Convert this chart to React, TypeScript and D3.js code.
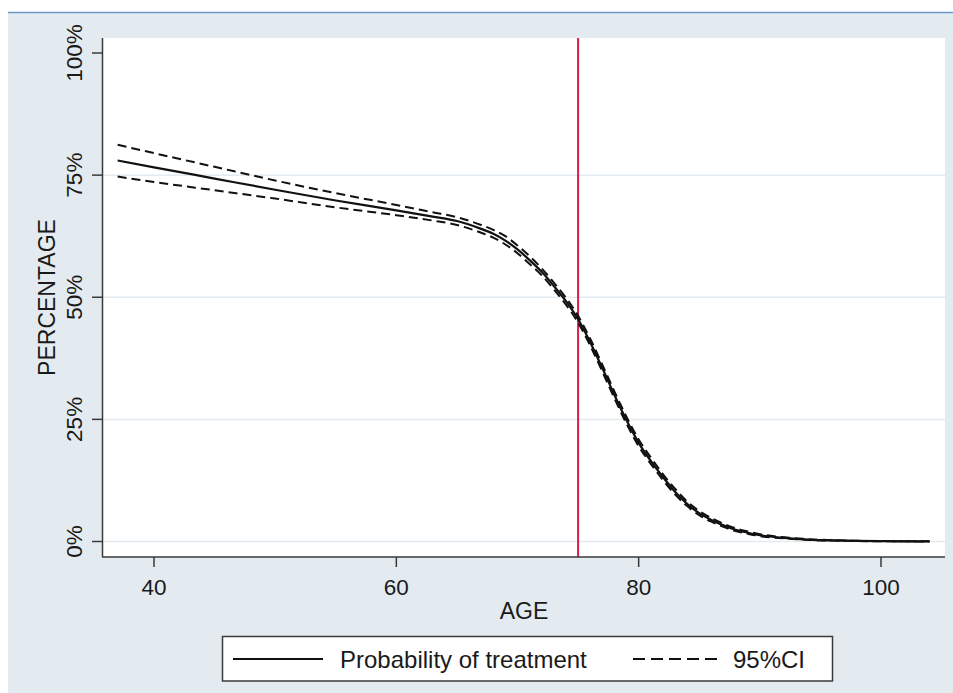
import React from "react";
import * as d3 from "d3";

const ages = [37, 40, 45, 50, 55, 60, 63, 65, 67, 68, 69, 70, 71, 72, 73, 74, 75, 76, 77, 78, 79, 80, 81, 82, 83, 84, 85, 86, 87, 88, 89, 90, 92, 94, 96, 98, 100, 102, 104];
const probability = [78.0, 76.6, 74.3, 72.0, 69.8, 67.8, 66.5, 65.6, 64.0, 63.0, 61.6, 59.8, 57.6, 55.2, 52.3, 49.2, 45.5, 40.8, 35.5, 30.0, 24.8, 20.2, 16.5, 13.2, 10.2, 7.7, 5.8, 4.4, 3.3, 2.4, 1.8, 1.3, 0.75, 0.4, 0.22, 0.12, 0.07, 0.04, 0.02];
const ciUpper = [81.2, 79.5, 76.7, 73.9, 71.3, 68.9, 67.4, 66.4, 64.8, 63.8, 62.5, 60.6, 58.4, 55.9, 53.0, 49.9, 46.2, 41.5, 36.2, 30.7, 25.5, 20.9, 17.2, 13.8, 10.8, 8.2, 6.25, 4.8, 3.65, 2.7, 2.05, 1.5, 0.87, 0.48, 0.27, 0.15, 0.09, 0.05, 0.03];
const ciLower = [74.7, 73.6, 71.9, 70.2, 68.4, 66.8, 65.7, 64.8, 63.2, 62.2, 60.8, 59.0, 56.8, 54.5, 51.6, 48.5, 44.8, 40.1, 34.8, 29.3, 24.1, 19.5, 15.9, 12.6, 9.65, 7.25, 5.4, 4.05, 2.98, 2.12, 1.58, 1.1, 0.64, 0.33, 0.18, 0.1, 0.05, 0.03, 0.01];

const xTicks = [40, 60, 80, 100];
const yTicks = [0, 25, 50, 75, 100];
const yGrid = [0, 25, 50, 75];
const cutoffAge = [75];
const legendLabels = ["Probability of treatment", "95%CI"];

const FONT = "'Liberation Sans', Arial, sans-serif";

export default function App() {
  const W = 953;
  const H = 693;
  const plot = { left: 103, right: 945, top: 38, bottom: 557 };

  const x = d3.scaleLinear().domain([40, 100]).range([154, 881]);
  const y = d3.scaleLinear().domain([0, 100]).range([541.5, 53]);

  const mk = (vals: number[]) =>
    d3
      .line<number>()
      .x((_, i) => x(ages[i]))
      .y((v) => y(v))
      .curve(d3.curveMonotoneX)(vals) as string;

  const axisColor = "#3a3a3a";
  const gridColor = "#e3ebf0";

  return (
    <svg
      width={W}
      height={H}
      style={{ position: "absolute", left: 0, top: 0 }}
      fontFamily={FONT}
    >
      <rect x={0} y={0} width={W} height={H} fill="#ffffff" />
      <rect x={8} y={12.5} width={W - 8} height={H - 12.5} fill="#e4ebf0" />
      <line x1={8} x2={W} y1={12.5} y2={12.5} stroke="#6b98c2" strokeWidth={1.5} />

      <rect
        x={plot.left}
        y={plot.top}
        width={plot.right - plot.left}
        height={plot.bottom - plot.top}
        fill="#ffffff"
      />

      {yGrid.map((t) => (
        <line
          key={"g" + t}
          x1={plot.left}
          x2={plot.right}
          y1={y(t)}
          y2={y(t)}
          stroke={gridColor}
          strokeWidth={1.5}
        />
      ))}

      {cutoffAge.map((a) => (
        <line
          key={"c" + a}
          x1={x(a)}
          x2={x(a)}
          y1={plot.top}
          y2={plot.bottom}
          stroke="#d31f4a"
          strokeWidth={2}
        />
      ))}

      <path d={mk(ciUpper)} fill="none" stroke="#111" strokeWidth={2} strokeDasharray="9,5" />
      <path d={mk(ciLower)} fill="none" stroke="#111" strokeWidth={2} strokeDasharray="9,5" />
      <path d={mk(probability)} fill="none" stroke="#111" strokeWidth={2.2} />

      {/* axes */}
      <line x1={102.5} x2={102.5} y1={plot.top} y2={plot.bottom} stroke={axisColor} strokeWidth={1.5} />
      <line x1={102} x2={plot.right} y1={plot.bottom} y2={plot.bottom} stroke={axisColor} strokeWidth={1.5} />

      {yTicks.map((t) => (
        <g key={"y" + t}>
          <line x1={92} x2={102} y1={y(t)} y2={y(t)} stroke={axisColor} strokeWidth={1.5} />
          <text
            transform={`translate(82,${y(t)}) rotate(-90)`}
            textAnchor="middle"
            fontSize={22.5}
            fill="#1a1a1a"
          >
            {t + "%"}
          </text>
        </g>
      ))}

      {xTicks.map((t) => (
        <g key={"x" + t}>
          <line x1={x(t)} x2={x(t)} y1={plot.bottom} y2={plot.bottom + 10} stroke={axisColor} strokeWidth={1.5} />
          <text x={x(t)} y={595} textAnchor="middle" fontSize={22.5} fill="#1a1a1a">
            {t}
          </text>
        </g>
      ))}

      <text
        transform={`translate(55,${(plot.top + plot.bottom) / 2}) rotate(-90)`}
        textAnchor="middle"
        fontSize={23}
        fill="#1a1a1a"
      >
        PERCENTAGE
      </text>
      <text x={(plot.left + plot.right) / 2} y={619} textAnchor="middle" fontSize={23} fill="#1a1a1a">
        AGE
      </text>

      {/* legend */}
      <rect x={222.5} y={636.5} width={610} height={44.5} fill="#ffffff" stroke="#3a3a3a" strokeWidth={1.5} />
      <line x1={233} x2={323} y1={659} y2={659} stroke="#111" strokeWidth={2} />
      <text x={340} y={668} fontSize={24} fill="#1a1a1a">
        {legendLabels[0]}
      </text>
      <line x1={633} x2={723} y1={659} y2={659} stroke="#111" strokeWidth={2} strokeDasharray="12,6" />
      <text x={733} y={668} fontSize={24} fill="#1a1a1a">
        {legendLabels[1]}
      </text>
    </svg>
  );
}
